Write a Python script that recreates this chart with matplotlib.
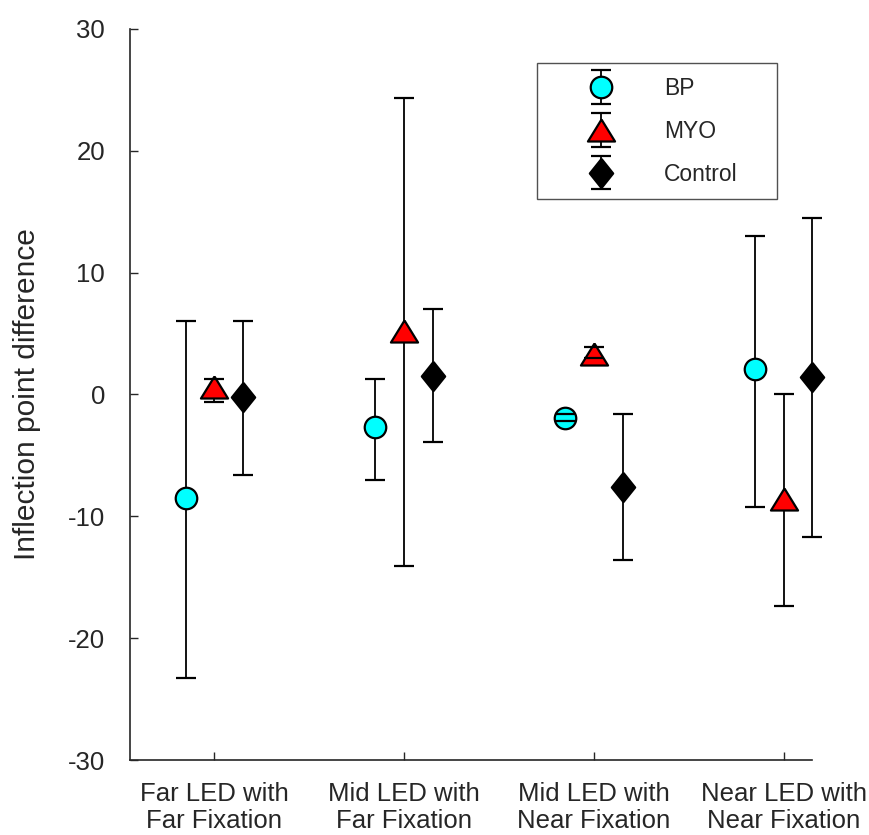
import numpy as np
import matplotlib
matplotlib.use("Agg")
import matplotlib.pyplot as plt
from matplotlib.legend_handler import HandlerErrorbar
from matplotlib.container import ErrorbarContainer

plt.rcParams["font.family"] = ["Liberation Sans", "DejaVu Sans"]
plt.rcParams["axes.unicode_minus"] = False

# Conditions on the x axis
conditions = ["Far LED with\nFar Fixation", "Mid LED with\nFar Fixation",
              "Mid LED with\nNear Fixation", "Near LED with\nNear Fixation"]

# Group means and error bar ends (upper, lower)
bp_mean = [-8.5, -2.7, -1.9, 2.1]
bp_upper = [6.0, 1.3, -1.6, 13.0]
bp_lower = [-23.3, -7.0, -2.2, -9.2]

myo_mean = [0.6, 5.2, 3.3, -8.6]
myo_upper = [1.3, 24.3, 3.9, 0.0]
myo_lower = [-0.6, -14.1, 3.0, -17.4]

ctrl_mean = [-0.2, 1.5, -7.6, 1.4]
ctrl_upper = [6.0, 7.0, -1.6, 14.5]
ctrl_lower = [-6.6, -3.9, -13.6, -11.7]

dark = "#262626"
x = np.arange(len(conditions))
offset = 0.152

tri = [(0, 1), (-1.23, -1), (1.23, -1), (0, 1)]
dia = [(0, 1), (0.8, 0), (0, -1), (-0.8, 0), (0, 1)]

fig = plt.figure(figsize=(8.7, 8.35), dpi=100)
ax = fig.add_axes([130 / 870, 1 - 760 / 835, 682 / 870, 731 / 835])

series = [
    ("BP", bp_mean, bp_upper, bp_lower, -offset, "o", "#00ffff", 15.5),
    ("MYO", myo_mean, myo_upper, myo_lower, 0.0, tri, "#ff0000", 19.5),
    ("Control", ctrl_mean, ctrl_upper, ctrl_lower, offset, dia, "black", 21),
]

handles = []
for name, mean, up, lo, dx, mk, col, ms in series:
    mean = np.array(mean)
    yerr = [mean - np.array(lo), np.array(up) - mean]
    eb = ax.errorbar(x + dx, mean, yerr=yerr, ecolor="black",
                     elinewidth=1.3, capsize=7.5, capthick=2.2,
                     linestyle="none", marker=mk, markersize=ms,
                     markerfacecolor=col, markeredgecolor="black",
                     markeredgewidth=1.6, label=name, clip_on=False)
    line, caps, bars = eb
    line.set_zorder(3)
    for c in caps:
        c.set_zorder(4)
    for b in bars:
        b.set_zorder(2)
    handles.append(eb)

# legend box spans x 537..777 px, top at 63 px
leg = ax.legend(handles=handles, loc="upper left", mode="expand",
                bbox_to_anchor=(0.597, 0.853, 0.352, 0.1), fontsize=16.5,
                frameon=True, fancybox=False, edgecolor=dark,
                handlelength=4.4, handletextpad=0.55, labelspacing=0.86,
                borderpad=0.6, borderaxespad=0,
                handler_map={ErrorbarContainer: HandlerErrorbar(yerr_size=0.74)})
leg.get_frame().set_linewidth(1.0)
for t in leg.get_texts():
    t.set_color(dark)

ax.set_xlim(-0.445, 3.15)
ax.set_ylim(-30, 30)
ax.set_yticks([-30, -20, -10, 0, 10, 20, 30])
ax.set_xticks(x)
ax.set_xticklabels(conditions, fontsize=18.5, color=dark, linespacing=1.2)
ax.tick_params(axis="both", direction="in", length=6, width=1, colors=dark)
ax.tick_params(axis="x", pad=15.5)
ax.tick_params(axis="y", pad=18, labelsize=18.5)

for s in ["top", "right"]:
    ax.spines[s].set_visible(False)
for s in ["left", "bottom"]:
    ax.spines[s].set_color(dark)
    ax.spines[s].set_linewidth(1.2)

ax.set_ylabel("Inflection point difference", fontsize=21.5, color=dark,
              labelpad=19.5)

fig.savefig("out.png", dpi=100)
